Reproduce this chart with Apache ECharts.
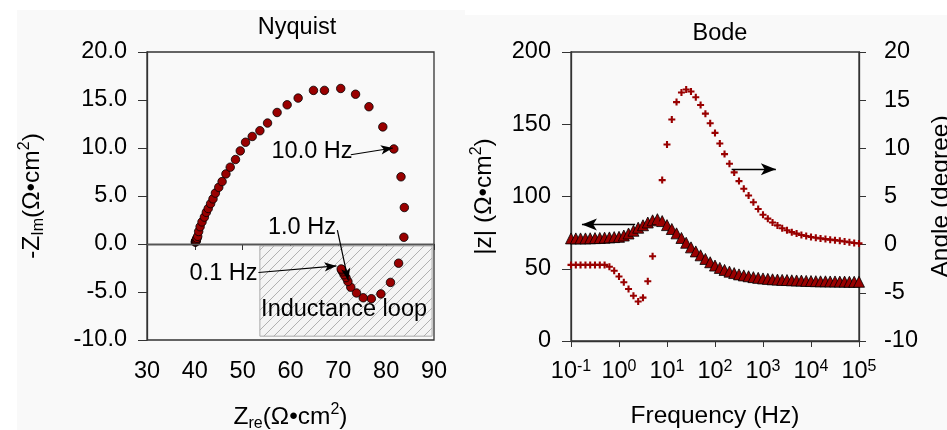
<!DOCTYPE html>
<html><head><meta charset="utf-8">
<script src="https://cdn.jsdelivr.net/npm/echarts@6/dist/echarts.min.js"></script>
<style>html,body{margin:0;padding:0;background:#fff}#c{width:947px;height:430px}</style>
</head><body><div id="c"></div>
<script>
// ---- Nyquist data (Z_re, -Z_im) in Ω·cm² ----
const nyqRe = [40.1,40.15,40.2,40.2,40.25,40.3,40.35,40.45,40.6,40.8,
  41.1,41.5,42.0,42.4,42.8,43.3,43.8,44.3,45.0,45.7,
  46.5,47.4,48.5,49.5,50.6,52.0,53.6,55.2,57.2,59.3,
  61.6,64.8,67.1,70.5,73.6,76.4,79.3,81.6,83.1,83.8,
  83.7,82.6,80.9,78.9,76.9,75.2,73.8,72.6,72.0,71.6,
  71.2,70.9,70.7,70.6];
const nyqIm = [0.2,0.22,0.25,0.3,0.35,0.4,0.5,0.6,0.8,1.3,
  1.8,2.3,2.8,3.3,3.7,4.2,4.7,5.3,5.9,6.5,
  7.3,8.0,8.8,9.7,10.6,11.2,11.8,12.6,13.7,14.5,
  15.2,16.0,16.0,16.2,15.6,14.3,12.2,9.9,7.0,3.8,
  0.7,-2.0,-4.0,-5.2,-5.7,-5.6,-5.1,-4.5,-3.9,-3.5,
  -3.2,-2.9,-2.7,-2.6];

// ---- Bode data ----
const freq = [0.1,0.126,0.158,0.2,0.251,0.316,0.398,0.501,0.631,0.794,
  1,1.26,1.58,2,2.51,3.16,3.98,5.01,6.31,7.94,
  10,12.6,15.8,20,25.1,31.6,39.8,50.1,63.1,79.4,
  100,126,158,200,251,316,398,501,631,794,
  1000,1260,1580,2000,2510,3160,3980,5010,6310,7940,
  10000,12600,15800,20000,25100,31600,39800,50100,63100,79400,100000];
const zMod = [71.0,71.0,71.0,71.0,71.1,71.2,71.3,71.5,71.7,71.9,
  72.1,73.0,74.4,76.3,78.4,80.1,82.0,83.5,84.3,83.0,
  80.2,77.5,74.5,71.3,68.0,64.8,62.0,59.3,56.8,54.5,
  52.2,50.6,49.2,48.0,47.0,46.1,45.4,44.8,44.2,43.7,
  43.3,43.0,42.7,42.5,42.3,42.2,42.0,41.9,41.8,41.6,
  41.5,41.4,41.3,41.3,41.2,41.2,41.1,41.1,41.0,41.0,41.0];
const phase = [-2.1,-2.1,-2.1,-2.1,-2.1,-2.1,-2.1,-2.1,-2.3,-2.7,
  -3.3,-3.9,-4.6,-5.3,-5.9,-5.5,-3.8,-1.2,2.3,6.7,
  10.4,13.0,14.8,15.8,16.1,15.9,15.3,14.5,13.6,12.6,
  11.6,10.5,9.4,8.4,7.5,6.6,5.8,5.1,4.4,3.7,
  3.1,2.7,2.3,2.0,1.7,1.5,1.3,1.15,1.0,0.9,
  0.8,0.72,0.65,0.58,0.52,0.47,0.4,0.33,0.25,0.18,0.13];

// ---- annotations ----
const nyqLabels = [
  {name:'10.0 Hz', at:[64.5,9.6], from:[72.6,9.3], to:[81.4,10.0]},
  {name:'1.0 Hz', at:[62.4,1.75], from:[69.8,1.44], to:[72.06,-3.77]},
  {name:'0.1 Hz', at:[46.0,-3.04], from:[53.3,-2.97], to:[69.6,-2.28]}
];
const loopText = {name:'Inductance loop', at:[71.2,-6.8]};
const loopBox = [[53.6,-0.2],[89.6,-9.6]];
const bodeArrowZ = {from:[2.17,80.7], to:[0.169,80.7]};
const bodeArrowP = {from:[222,7.84], to:[1853,7.84]};

const FONT = 'Liberation Sans, Arial, sans-serif';
const RED = '#990000';

function hatch(){
  const c=document.createElement('canvas');c.width=10;c.height=10;
  const g=c.getContext('2d');
  g.fillStyle='#f4f4f4';g.fillRect(0,0,10,10);
  g.strokeStyle='#a8a8a8';g.lineWidth=0.9;g.beginPath();
  g.moveTo(0,10);g.lineTo(10,0);g.moveTo(-1,1);g.lineTo(1,-1);g.moveTo(9,11);g.lineTo(11,9);
  g.stroke();return c;
}
const PLUS='path://M0.35,0H0.65V0.35H1V0.65H0.65V1H0.35V0.65H0V0.35H0.35Z';

const chart = echarts.init(document.getElementById('c'), null, {renderer:'canvas'});
const axisLine = {show:true, lineStyle:{color:'#333', width:1.3}};
const lbl = {color:'#000', fontSize:23.5, fontFamily:FONT};
const richSS = {
  sub:{fontSize:16, fontFamily:FONT, color:'#000', verticalAlign:'bottom', padding:[12,0,0,0]},
  sup:{fontSize:16, fontFamily:FONT, color:'#000', verticalAlign:'top', padding:[0,0,14,0]}
};
const nameStyle = {fontSize:24.5, color:'#000', fontFamily:FONT, rich:richSS};

chart.setOption({
  animation:false,
  backgroundColor:'#fff',
  graphic:[
    {type:'rect', z:-10, shape:{x:17,y:10,width:448,height:420}, style:{fill:'#f9f9f9'}},
    {type:'rect', z:-10, shape:{x:465,y:15,width:482,height:415}, style:{fill:'#f9f9f9'}}
  ],
  title:[
    {text:'Nyquist', left:292, top:11, textAlign:'center', textStyle:{fontSize:23.5, fontWeight:'normal', color:'#000', fontFamily:FONT}},
    {text:'Bode', left:715, top:17, textAlign:'center', textStyle:{fontSize:23.5, fontWeight:'normal', color:'#000', fontFamily:FONT}}
  ],
  grid:[
    {left:147, top:52, width:287, height:288, show:true, borderColor:'#333', borderWidth:1.3, backgroundColor:'transparent', containLabel:false, outerBoundsMode:'none'},
    {left:571, top:52, width:288, height:289, show:true, borderColor:'#333', borderWidth:1.3, backgroundColor:'transparent', containLabel:false, outerBoundsMode:'none'}
  ],
  xAxis:[
    {gridIndex:0, type:'value', min:30, max:90, interval:10, splitLine:{show:false},
     axisLine, axisTick:{length:6, lineStyle:{color:'#333'}}, axisLabel:{...lbl, margin:20},
     name:'Z{sub|re}(Ω•cm{sup|2})', nameLocation:'middle', nameGap:62, nameTextStyle:nameStyle},
    {gridIndex:1, type:'log', logBase:10, min:0.1, max:100000, splitLine:{show:false},
     axisLine, axisTick:{length:6, lineStyle:{color:'#333'}}, minorTick:{show:false},
     axisLabel:{...lbl, margin:18, formatter:v=>'10{sup|'+Math.round(Math.log10(v))+'}',
       rich:{sup:{fontSize:16, fontFamily:FONT, color:'#000', verticalAlign:'top', padding:[0,0,10,0]}}},
     name:'Frequency (Hz)', nameLocation:'middle', nameGap:63,
     nameTextStyle:{fontSize:24.5, color:'#000', fontFamily:FONT}}
  ],
  yAxis:[
    {gridIndex:0, type:'value', min:-10, max:20, interval:5, splitLine:{show:false},
     axisLine, axisTick:{length:9, lineStyle:{color:'#333'}}, axisLabel:{...lbl, margin:20, formatter:v=>v.toFixed(1)},
     name:'-Z{sub|Im}(Ω•cm{sup|2})', nameLocation:'middle', nameGap:100, nameTextStyle:nameStyle},
    {gridIndex:1, type:'value', min:0, max:200, interval:50, splitLine:{show:false},
     axisLine, axisTick:{length:9, lineStyle:{color:'#333'}}, axisLabel:{...lbl, margin:20},
     name:'|z| (Ω•cm{sup|2})', nameLocation:'middle', nameGap:72, nameTextStyle:nameStyle},
    {gridIndex:1, type:'value', position:'right', min:-10, max:20, interval:5, splitLine:{show:false},
     axisLine, axisTick:{length:7, lineStyle:{color:'#333'}}, axisLabel:{...lbl, margin:25},
     name:'Angle (degree)', nameLocation:'middle', nameGap:70, nameRotate:90,
     nameTextStyle:{fontSize:24.5, color:'#000', fontFamily:FONT}}
  ],
  series:[
    {type:'scatter', xAxisIndex:0, yAxisIndex:0, symbol:'circle', symbolSize:8.5,
     itemStyle:{color:RED, borderColor:'#000', borderWidth:0.8, opacity:1},
     data:nyqRe.map((x,i)=>[x,nyqIm[i]]),
     markArea:{silent:true, itemStyle:{color:{image:hatch(), repeat:'repeat'}, borderColor:'#aaa', borderWidth:1},
       data:[[{coord:loopBox[0]},{coord:loopBox[1]}]]},
     markLine:{silent:true, symbol:['none','arrow'], symbolSize:[7,12], label:{show:false},
       lineStyle:{color:'#000', width:1.2, type:'solid'},
       data:[
         [{coord:[30,0], symbol:'none', lineStyle:{color:'#555', width:1.3}},{coord:[90,0], symbol:'none'}],
         ...nyqLabels.map(a=>[{coord:a.from},{coord:a.to}])
       ]},
     markPoint:{silent:true, symbol:'circle', symbolSize:1, itemStyle:{color:'rgba(0,0,0,0)'},
       label:{show:true, position:'inside', formatter:'{b}', fontSize:23.5, color:'#000', fontFamily:FONT},
       data:[...nyqLabels, loopText].map(a=>({name:a.name, coord:a.at}))}
    },
    {type:'scatter', xAxisIndex:1, yAxisIndex:1, symbol:'triangle', symbolSize:11,
     itemStyle:{color:RED, borderColor:'#000', borderWidth:0.8, opacity:1},
     data:freq.map((f,i)=>[f,zMod[i]]),
     markLine:{silent:true, symbol:['none','arrow'], symbolSize:[9,15], label:{show:false},
       lineStyle:{color:'#000', width:1.3, type:'solid'},
       data:[[{coord:bodeArrowZ.from},{coord:bodeArrowZ.to}]]}
    },
    {type:'scatter', xAxisIndex:1, yAxisIndex:2, symbol:PLUS, symbolSize:7,
     itemStyle:{color:RED, opacity:1},
     data:freq.map((f,i)=>[f,phase[i]]),
     markLine:{silent:true, symbol:['none','arrow'], symbolSize:[9,15], label:{show:false},
       lineStyle:{color:'#000', width:1.3, type:'solid'},
       data:[[{coord:bodeArrowP.from},{coord:bodeArrowP.to}]]}
    }
  ]
});
</script></body></html>
